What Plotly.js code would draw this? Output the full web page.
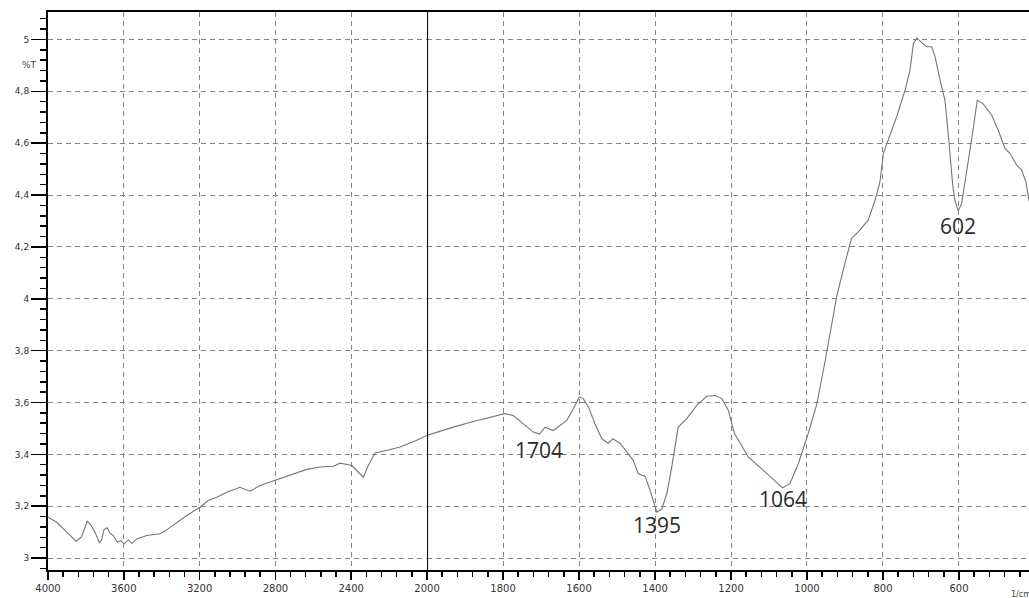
<!DOCTYPE html>
<html>
<head>
<meta charset="utf-8">
<script src="https://cdn.plot.ly/plotly-3.0.1.min.js"></script>
<style>
  html, body { margin: 0; padding: 0; overflow: hidden; background: #fff; }
  #chart { width: 1040px; height: 598px; }
</style>
</head>
<body>
<div id="chart"></div>
<script>
// FTIR spectrum: wavenumber (1/cm) against transmittance (%T)
const wavenumber = [
  4000, 3954, 3901, 3852, 3822, 3805, 3793, 3775, 3752, 3729, 3717, 3705, 3687, 3673, 3655,
  3634, 3616, 3599, 3576, 3558, 3532, 3479, 3409, 3383, 3321, 3268, 3198, 3154, 3110, 3057,
  2987, 2934, 2881, 2793, 2706, 2635, 2565, 2494, 2459, 2397, 2362, 2336, 2310, 2274, 2231,
  2142, 2054, 2000, 1948, 1931, 1878, 1826, 1795, 1773, 1747, 1720, 1704, 1689, 1668, 1650,
  1632, 1615, 1599, 1589, 1575, 1558, 1540, 1523, 1511, 1492, 1474, 1457, 1444, 1426, 1413,
  1400, 1395, 1382, 1369, 1356, 1339, 1317, 1290, 1264, 1242, 1224, 1207, 1191, 1154, 1115,
  1080, 1064, 1045, 1023, 997, 974, 952, 922, 905, 883, 865, 839, 821, 808, 799,
  786, 764, 742, 729, 720, 711, 698, 685, 672, 663, 650, 637, 626, 617, 611,
  602, 593, 580, 563, 552, 536, 514, 497, 479, 466, 448, 435, 424, 416, 405
];
const transmittance = [
  3.158, 3.138, 3.100, 3.065, 3.083, 3.119, 3.142, 3.129, 3.100, 3.059, 3.070, 3.109, 3.117, 3.096, 3.087,
  3.061, 3.067, 3.055, 3.070, 3.057, 3.074, 3.087, 3.094, 3.104, 3.138, 3.164, 3.196, 3.222, 3.235, 3.254,
  3.273, 3.258, 3.280, 3.303, 3.325, 3.342, 3.351, 3.354, 3.366, 3.357, 3.331, 3.312, 3.357, 3.405, 3.412,
  3.428, 3.454, 3.473, 3.499, 3.505, 3.527, 3.546, 3.557, 3.550, 3.518, 3.486, 3.478, 3.505, 3.492, 3.512,
  3.531, 3.576, 3.621, 3.615, 3.582, 3.518, 3.460, 3.443, 3.460, 3.443, 3.408, 3.376, 3.325, 3.315, 3.261,
  3.196, 3.177, 3.190, 3.248, 3.351, 3.505, 3.537, 3.589, 3.624, 3.627, 3.615, 3.570, 3.480, 3.389, 3.338,
  3.293, 3.271, 3.287, 3.364, 3.480, 3.595, 3.763, 4.007, 4.110, 4.232, 4.258, 4.303, 4.380, 4.451, 4.561,
  4.612, 4.702, 4.805, 4.882, 4.985, 5.005, 4.988, 4.972, 4.972, 4.934, 4.844, 4.766, 4.599, 4.445, 4.380,
  4.339, 4.368, 4.483, 4.651, 4.766, 4.751, 4.708, 4.651, 4.580, 4.561, 4.515, 4.496, 4.451, 4.380, 4.330
];

// labelled absorption bands
const peakLabels = [1704, 1395, 1064, 602];

// axis ticks
const highTicks = [4000, 3600, 3200, 2800, 2400];
const lowTicks = [2000, 1800, 1600, 1400, 1200, 1000, 800, 600, 400];
const yTickVals = [3, 3.2, 3.4, 3.6, 3.8, 4, 4.2, 4.4, 4.6, 4.8, 5];
const yTickText = ['3', '3,2', '3,4', '3,6', '3,8', '4', '4,2', '4,4', '4,6', '4,8', '5'];

// split the spectrum at 2000 1/cm: the two halves use different scales
const hiX = [], hiY = [], loX = [], loY = [];
wavenumber.forEach((w, i) => {
  if (w >= 2000) { hiX.push(w); hiY.push(transmittance[i]); }
  if (w <= 2000) { loX.push(w); loY.push(transmittance[i]); }
});

const lineStyle = { color: '#767676', width: 1.1 };
const traces = [
  { x: hiX, y: hiY, xaxis: 'x', yaxis: 'y', type: 'scatter', mode: 'lines', line: lineStyle, hoverinfo: 'x+y' },
  { x: loX, y: loY, xaxis: 'x2', yaxis: 'y', type: 'scatter', mode: 'lines', line: lineStyle, hoverinfo: 'x+y' }
];

const gridStyle = { showgrid: true, gridcolor: '#858585', gridwidth: 1, griddash: '5px,4px' };
const tickFont = { family: 'DejaVu Sans', size: 10, color: '#333' };

function xAxis(domain, range, ticks, minorStep) {
  return Object.assign({
    domain: domain, range: range, anchor: 'y',
    tickmode: 'array', tickvals: ticks, ticktext: ticks.map(String),
    ticks: 'outside', ticklen: 8, tickwidth: 1.5, tickcolor: '#000',
    showline: true, linecolor: '#000', linewidth: 2, mirror: true,
    zeroline: false, tickfont: tickFont,
    minor: { tickmode: 'linear', tick0: 0, dtick: minorStep, ticks: 'outside', ticklen: 5, tickwidth: 1.5, tickcolor: '#000', showgrid: false }
  }, gridStyle);
}

// value of the curve at a given wavenumber
function curveAt(w) {
  const i = wavenumber.indexOf(w);
  return i >= 0 ? transmittance[i] : null;
}

const labelDrop = { 1704: -16, 1395: -13, 1064: -11, 602: -15 };
const annotations = peakLabels.map(w => ({
  x: w, y: curveAt(w), xref: 'x2', yref: 'y',
  text: String(w), showarrow: false, yanchor: 'middle', xanchor: 'center',
  yshift: labelDrop[w],
  font: { family: 'Open Sans', size: 21, color: '#2a2a2a' }
}));
annotations.push(
  { x: -0.028, xref: 'paper', y: 4.9, yref: 'y', text: '%T', showarrow: false,
    font: { family: 'DejaVu Sans', size: 9, color: '#444' } },
  { x: 400, xref: 'x2', y: 0, yref: 'paper', yshift: -24, xshift: -14, yanchor: 'middle',
    text: '1/cm', showarrow: false,
    font: { family: 'DejaVu Sans', size: 8, color: '#444' } }
);

const layout = {
  width: 1040, height: 598,
  margin: { l: 48, r: 5, t: 12, b: 28 },
  paper_bgcolor: '#fff', plot_bgcolor: '#fff',
  showlegend: false,
  xaxis: xAxis([0, 0.384], [4000, 2000], highTicks, 80),
  xaxis2: xAxis([0.384, 1], [2000, 400], lowTicks, 40),
  yaxis: Object.assign({
    range: [2.954, 5.106], anchor: 'x',
    tickmode: 'array', tickvals: yTickVals, ticktext: yTickText,
    ticks: 'outside', ticklen: 15, tickwidth: 1.5, tickcolor: '#000',
    showline: true, linecolor: '#000', linewidth: 2,
    zeroline: false, tickfont: { family: 'DejaVu Sans', size: 9, color: '#333' },
    minor: { tickmode: 'linear', tick0: 0, dtick: 0.04, ticks: 'outside', ticklen: 6, tickwidth: 1.5, tickcolor: '#000', showgrid: false }
  }, gridStyle),
  shapes: [
    { type: 'line', xref: 'x2', yref: 'paper', x0: 2000, x1: 2000, y0: 0, y1: 1,
      line: { color: '#111', width: 2.2 } }
  ],
  annotations: annotations
};

Plotly.newPlot('chart', traces, layout, { displayModeBar: false, staticPlot: true });
</script>
</body>
</html>
